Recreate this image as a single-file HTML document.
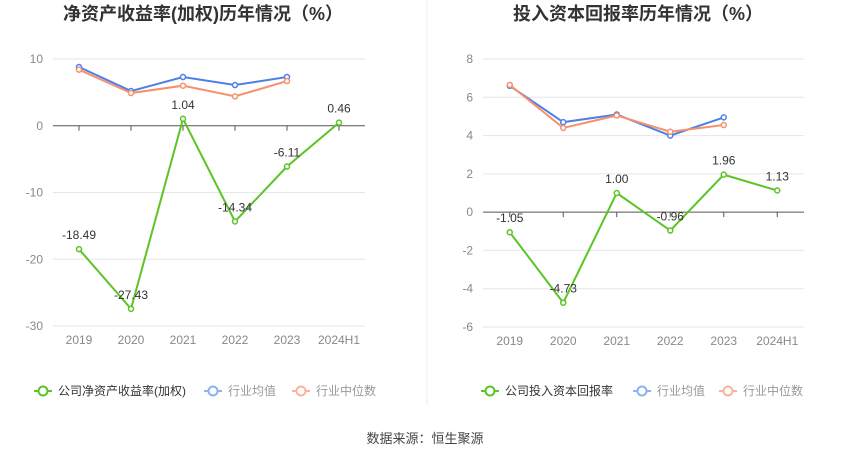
<!DOCTYPE html>
<html><head><meta charset="utf-8"><style>
body{margin:0;width:850px;height:459px;background:#fff;font-family:"Liberation Sans","Noto Sans CJK SC",sans-serif;overflow:hidden}
svg text{font-family:"Liberation Sans","Noto Sans CJK SC",sans-serif}
</style></head><body>
<svg id="svg" width="850" height="459">
<line x1="427" y1="0" x2="427" y2="405" stroke="#eee"/>
<text x="425" y="443" font-size="13" fill="#444" text-anchor="middle">数据来源：恒生聚源</text>
</svg>
<script>
const categories=["2019","2020","2021","2022","2023","2024H1"];
const roeCompany=[-18.49,-27.43,1.04,-14.34,-6.11,0.46];
const roeAvg=[8.8,5.2,7.3,6.1,7.3];
const roeMed=[8.4,4.9,6.0,4.4,6.7];
const roeTicks=[10,0,-10,-20,-30];
const roicCompany=[-1.05,-4.73,1.00,-0.96,1.96,1.13];
const roicAvg=[6.6,4.7,5.1,4.0,4.95];
const roicMed=[6.65,4.4,5.05,4.2,4.55];
const roicTicks=[8,6,4,2,0,-2,-4,-6];
const svg=document.getElementById('svg');
const NS='http://www.w3.org/2000/svg';
function el(t,a,p){const e=document.createElementNS(NS,t);for(const k in a)e.setAttribute(k,a[k]);(p||svg).appendChild(e);return e;}
function chart(o){
  const g=el('g',{});
  
  
  const y=v=>o.y0+(v-o.vmax)*(o.y1-o.y0)/(o.vmin-o.vmax);
  const x=i=>o.x0+o.step*(i+0.5);
  const t=el('text',{x:o.titleX,y:20,'font-size':18,'font-weight':'bold',fill:'#333','text-anchor':'middle'},g);t.textContent=o.title;
  
  o.ticks.forEach(v=>{
    if(v!==0){const l=el('line',{x1:o.x0,x2:o.x0+o.step*6,y1:y(v),y2:y(v),stroke:'#e6e6e6'},g);
    }
    const tx=el('text',{x:o.x0-10,y:y(v)+4,'font-size':12,fill:'#888','text-anchor':'end'},g);tx.textContent=v;
    
  });
  const ax=el('line',{x1:o.x0,x2:o.x0+o.step*6,y1:y(0),y2:y(0),stroke:'#555'},g);
  
  categories.forEach((c,i)=>{
    el('line',{x1:x(i),x2:x(i),y1:y(0),y2:y(0)+5,stroke:'#555'},g);
    const tx=el('text',{x:x(i),y:o.y1+18,'font-size':12,fill:'#888','text-anchor':'middle'},g);tx.textContent=c;
    
  });
  function series(arr,color,nm,labels){
    const p=el('polyline',{points:arr.map((v,i)=>x(i)+','+y(v)).join(' '),fill:'none',stroke:color,'stroke-width':2},g);
    
    arr.forEach((v,i)=>{
      const c=el('circle',{cx:x(i),cy:y(v),r:2.5,fill:'#fff',stroke:color,'stroke-width':1.5},g);
      
      if(labels){const tx=el('text',{x:x(i),y:y(v)-10,'font-size':12,fill:'#333','text-anchor':'middle'},g);tx.textContent=v.toFixed(2);
        }
    });
  }
  series(o.avg,'#4e7fe6','industry-avg');
  series(o.med,'#f5916b','industry-median');
  series(o.comp,'#5cc424','company',true);
  const lg=[[o.legend,'#5cc424','#333'],['行业均值','#8fb0f2','#999'],['行业中位数','#f8b59b','#999']];
  lg.forEach(([txt,col,tc],k)=>{
    const lx=o.legX[k];
    const e=el('g',{},g);
    
    el('line',{x1:lx,x2:lx+18,y1:391,y2:391,stroke:col,'stroke-width':2},e);
    el('circle',{cx:lx+9,cy:391,r:4.5,fill:'#fff',stroke:col,'stroke-width':2},e);
    const tt=el('text',{x:lx+24,y:395,'font-size':12,fill:tc},e);tt.textContent=txt;
  });
}
chart({name:'roe-chart',title:'净资产收益率(加权)历年情况（%）',titleX:203,x0:53,step:52,y0:59,y1:326,vmax:10,vmin:-30,ticks:roeTicks,comp:roeCompany,avg:roeAvg,med:roeMed,legend:'公司净资产收益率(加权)',legX:[34,204,292]});
chart({name:'roic-chart',title:'投入资本回报率历年情况（%）',titleX:638,x0:483,step:53.5,y0:59,y1:327,vmax:8,vmin:-6,ticks:roicTicks,comp:roicCompany,avg:roicAvg,med:roicMed,legend:'公司投入资本回报率',legX:[481,633,719]});
</script>
</body></html>
